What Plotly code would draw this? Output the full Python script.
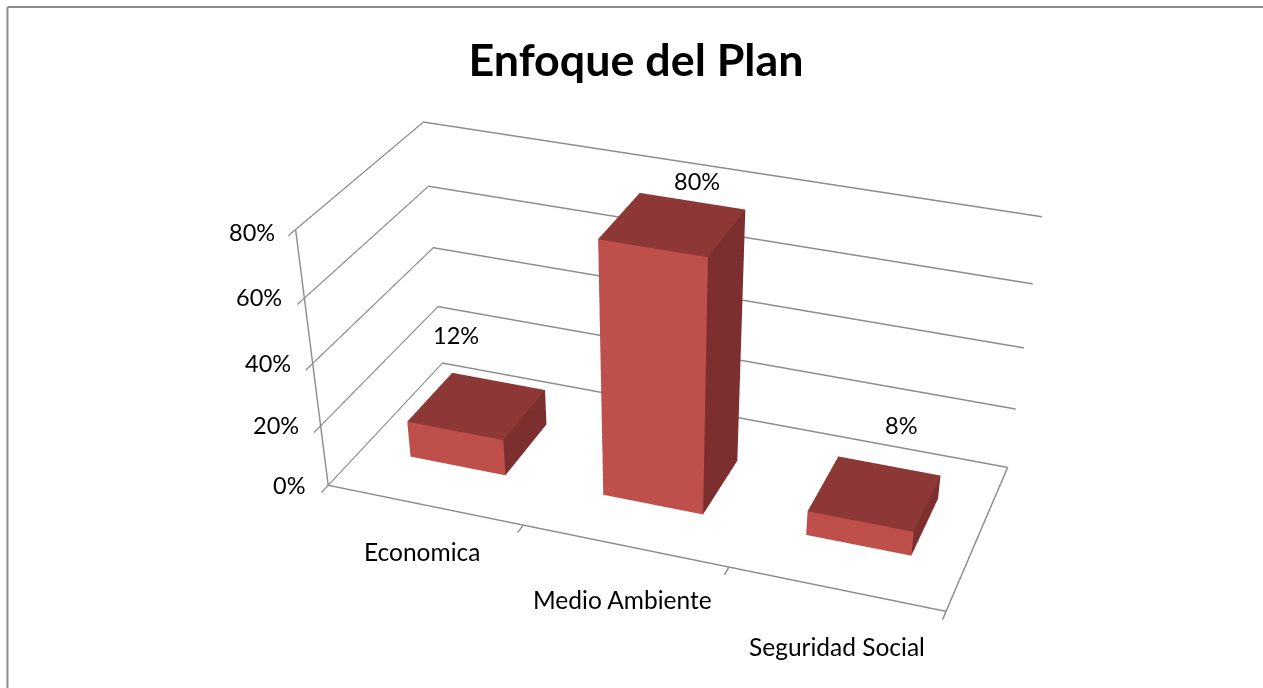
import plotly.graph_objects as go

categories = ["Economica", "Medio Ambiente", "Seguridad Social"]
values = [12, 80, 8]
value_labels = ["12%", "80%", "8%"]
z_ticks = [0, 20, 40, 60, 80]
z_tick_labels = ["0%", "20%", "40%", "60%", "80%"]
cat_ticks = [0, 1, 2, 3]

W, H = 1409, 1600
BAR_W, D0, D1 = 0.4982, 0.2906, 0.6907
LBL = "Lato"
FS_NUM, FS_CAT = 23.5, 24.5
TXT = "#000000"
FRONT, TOP, SIDE = "#BE4F4B", "#8D3837", "#7C2F2E"
LINE = "#8C8C8C"

fig = go.Figure()

for i, v in enumerate(values):
    x0, x1 = i + 0.5 - BAR_W / 2, i + 0.5 + BAR_W / 2
    xs = [x0, x1, x1, x0, x0, x1, x1, x0]
    ys = [D0, D0, D1, D1, D0, D0, D1, D1]
    zs = [0, 0, 0, 0, v, v, v, v]
    faces = [(0, 1, 5, FRONT), (0, 5, 4, FRONT), (4, 5, 6, TOP), (4, 6, 7, TOP),
             (1, 2, 6, SIDE), (1, 6, 5, SIDE), (3, 2, 6, SIDE), (3, 6, 7, SIDE),
             (0, 3, 7, SIDE), (0, 7, 4, SIDE), (0, 1, 2, TOP), (0, 2, 3, TOP)]
    fig.add_trace(go.Mesh3d(
        x=xs, y=ys, z=zs,
        i=[f[0] for f in faces], j=[f[1] for f in faces], k=[f[2] for f in faces],
        facecolor=[f[3] for f in faces], flatshading=True, hoverinfo="skip",
        lighting=dict(ambient=1, diffuse=0, specular=0, fresnel=0, roughness=1),
    ))

annotations = []
z_shift = [(-21, 0), (-20, 1), (-20, 0), (-20, 1), (-19, -2)]
for z, t, s in zip(z_ticks, z_tick_labels, z_shift):
    annotations.append(dict(x=0, y=0, z=z, text=t, showarrow=False, xanchor="right",
                            yanchor="middle", xshift=s[0], yshift=s[1],
                            font=dict(family=LBL, size=FS_NUM, color=TXT)))
cat_shift = [(-3, -47), (-2, -54), (1, -58)]
for i, (c, s) in enumerate(zip(categories, cat_shift)):
    annotations.append(dict(x=i + 0.5, y=0, z=0, text=c, showarrow=False, xanchor="center",
                            yanchor="middle", xshift=s[0], yshift=s[1],
                            font=dict(family=LBL, size=FS_CAT, color=TXT)))
val_shift = [(-42, 46), (5, 20), (12, 41)]
for i, (t, v, s) in enumerate(zip(value_labels, values, val_shift)):
    annotations.append(dict(x=i + 0.5, y=D1, z=v, text=t, showarrow=False, xanchor="center",
                            yanchor="middle", xshift=s[0], yshift=s[1],
                            font=dict(family=LBL, size=FS_NUM, color=TXT)))

axis_common = dict(showbackground=False, showspikes=False, zeroline=False, title="",
                   showticklabels=False, showline=True, linecolor=LINE, linewidth=3,
                   ticks="outside", ticklen=12, tickcolor=LINE, tickwidth=3)

fig.update_layout(
    width=W, height=H, margin=dict(l=0, r=0, t=0, b=0, autoexpand=False),
    paper_bgcolor="white", showlegend=False, hovermode=False,
    title=dict(text="<b>Enfoque del Plan</b>", x=636 / W, xref="paper", xanchor="center",
               y=1 - 60 / H, yref="container", yanchor="middle",
               font=dict(family=LBL, size=44.8, color=TXT)),
    shapes=[
        dict(type="line", xref="paper", yref="paper", x0=7.5 / W, x1=1, y0=1 - 7 / H, y1=1 - 7 / H,
             line=dict(color=LINE, width=2)),
        dict(type="line", xref="paper", yref="paper", x0=7.5 / W, x1=7.5 / W, y0=0, y1=1 - 7 / H,
             line=dict(color=LINE, width=2)),
    ],
    scene=dict(
        domain=dict(x=[0, 1], y=[0, 1]),
        aspectmode="manual", aspectratio=dict(x=2.0, y=0.8592, z=0.8496),
        camera=dict(eye=dict(x=1.7741, y=-5.0582, z=2.8156),
                    center=dict(x=0.3876, y=-0.7849, z=-1.0423),
                    up=dict(x=-0.0008, y=-0.0495, z=1),
                    projection=dict(type="perspective")),
        xaxis=dict(range=[0, 3], tickvals=cat_ticks, showgrid=False, **axis_common),
        yaxis=dict(range=[0, 1], tickvals=[], showgrid=False, **axis_common),
        zaxis=dict(range=[0, 80], tickvals=z_ticks, showgrid=True, gridcolor=LINE, gridwidth=3,
                   **axis_common),
        annotations=annotations,
    ),
)

fig.write_html("out.html", config=dict(displayModeBar=False),
               post_script="document.body.style.margin='0';document.body.style.overflow='hidden';")
